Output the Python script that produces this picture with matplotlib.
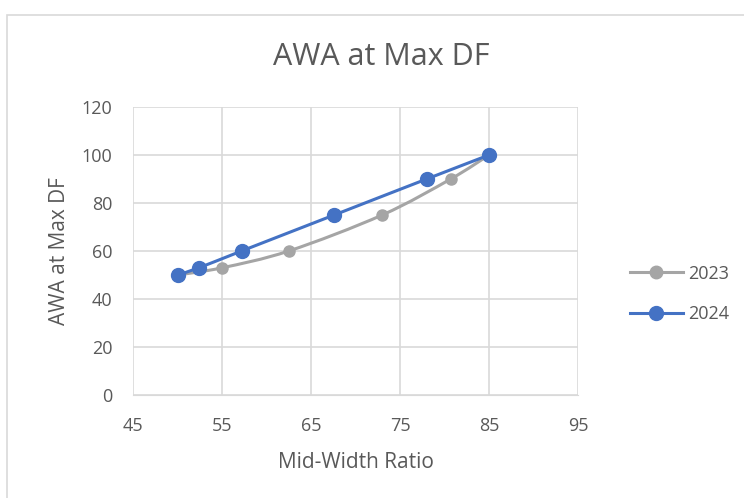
import matplotlib.pyplot as plt
import numpy as np
from matplotlib.path import Path
from matplotlib.patches import PathPatch, Rectangle
from matplotlib.lines import Line2D

plt.rcParams['font.family'] = ['Open Sans', 'DejaVu Sans']

# Series data
x_2023 = [50, 55, 62.5, 73, 80.7, 85]
y_2023 = [50, 53, 60, 75, 90, 100]
x_2024 = [50, 52.4, 57.2, 67.6, 78, 85]
y_2024 = [50, 53, 60, 75, 90, 100]

x_ticks = [45, 55, 65, 75, 85, 95]
y_ticks = [0, 20, 40, 60, 80, 100, 120]

text_col = '#595959'
grid_col = '#D9D9D9'
gray = '#A5A5A5'
blue = '#4472C4'


def smooth_path(xs, ys, t=1/6):
    # Catmull-Rom style bezier through the points (smoothed line)
    pts = np.column_stack([xs, ys]).astype(float)
    verts = [pts[0]]
    codes = [Path.MOVETO]
    n = len(pts)
    for i in range(n - 1):
        p0 = pts[i - 1] if i > 0 else pts[i]
        p1 = pts[i]
        p2 = pts[i + 1]
        p3 = pts[i + 2] if i + 2 < n else pts[i + 1]
        c1 = p1 + (p2 - p0) * t
        c2 = p2 - (p3 - p1) * t
        verts += [c1, c2, p2]
        codes += [Path.CURVE4] * 3
    return Path(verts, codes)


fig = plt.figure(figsize=(7.44, 4.98), dpi=100)
# chart area frame (only left and top edges fall inside the image)
fig.patches.append(Rectangle((7/744, -0.1), 1.2, 1.1 - 15/498, transform=fig.transFigure,
                             fill=False, edgecolor='#D9D9D9', linewidth=1.2))

ax = fig.add_axes([133/744, 103/498, 445/744, 288/498])

ax.add_patch(PathPatch(smooth_path(x_2023, y_2023), fill=False, edgecolor=gray,
                       linewidth=2.2, capstyle='round', zorder=3))
ax.plot(x_2023, y_2023, 'o', color=gray, markersize=8, zorder=4)

ax.add_patch(PathPatch(smooth_path(x_2024, y_2024), fill=False, edgecolor=blue,
                       linewidth=2.2, capstyle='round', zorder=5))
ax.plot(x_2024, y_2024, 'o', color=blue, markersize=10, zorder=6)

ax.set_xlim(45, 95)
ax.set_ylim(0, 120)
ax.set_xticks(x_ticks)
ax.set_yticks(y_ticks)
ax.grid(True, color=grid_col, linewidth=1.2)
ax.set_axisbelow(True)
for s in ax.spines.values():
    s.set_visible(False)
ax.spines['bottom'].set_visible(True)
ax.spines['bottom'].set_color(grid_col)
ax.tick_params(length=0, labelsize=13, labelcolor=text_col)
ax.tick_params(axis='x', pad=16)
ax.tick_params(axis='y', pad=15)

fig.text(381/744, 1 - 57/498, 'AWA at Max DF', fontsize=22, color=text_col,
         ha='center', va='center')
ax.set_xlabel('Mid-Width Ratio', fontsize=15, color=text_col, labelpad=12)
ax.set_ylabel('AWA at Max DF', fontsize=15, color=text_col, labelpad=8)

handles = [Line2D([], [], color=gray, marker='o', markersize=9, linewidth=2.2),
           Line2D([], [], color=blue, marker='o', markersize=10, linewidth=2.2)]
leg = fig.legend(handles, ['2023', '2024'], loc='center left',
                 bbox_to_anchor=(614/744, 1 - 294/498), frameon=False,
                 fontsize=13, labelcolor=text_col, handlelength=2.9,
                 labelspacing=1.25, handletextpad=0.3)

fig.savefig('out.png', dpi=100)
